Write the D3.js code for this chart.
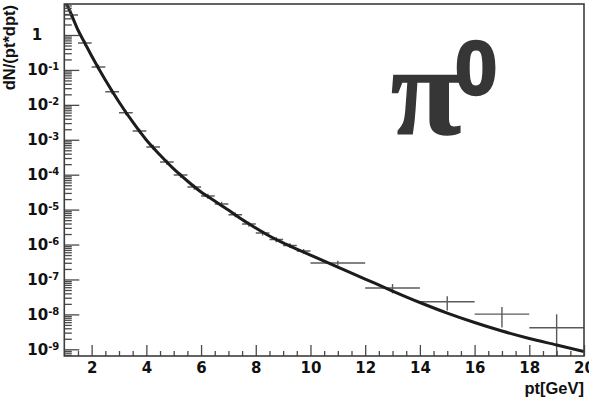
<!DOCTYPE html>
<html>
<head>
<meta charset="utf-8">
<script src="https://cdn.jsdelivr.net/npm/d3@7/dist/d3.min.js"></script>
<style>
  html, body { margin: 0; padding: 0; background: #fff; }
  svg { display: block; }
</style>
</head>
<body>
<svg id="chart" width="589" height="401"></svg>
<script>
// pi0 transverse-momentum spectrum: binned yields with a fitted curve

// measured bins (pt in GeV)
const ptLow  = [1.0, 1.5, 2.0, 2.5, 3.0, 3.5, 4.0, 4.5, 5.0, 5.5, 6.0, 6.5, 7.0, 7.5, 8.0, 8.5, 9.0, 9.5, 10, 12, 14, 16, 18];
const ptHigh = [1.5, 2.0, 2.5, 3.0, 3.5, 4.0, 4.5, 5.0, 5.5, 6.0, 6.5, 7.0, 7.5, 8.0, 8.5, 9.0, 9.5, 10, 12, 14, 16, 18, 20];
const yieldVal = [3.74, 0.59, 0.121, 0.0238, 5.96e-3, 1.78e-3, 6.2e-4, 2.31e-4, 9.8e-5, 4.44e-5, 2.45e-5, 1.45e-5,
                  7.1e-6, 3.87e-6, 2.14e-6, 1.39e-6, 9.4e-7, 6.5e-7, 2.96e-7, 5.7e-8, 2.3e-8, 1.02e-8, 4.15e-9];
const yieldErr = [0.6, 0.094, 0.019, 0.0038, 9.5e-4, 2.8e-4, 1.0e-4, 3.7e-5, 1.6e-5, 7.1e-6, 3.9e-6, 2.3e-6,
                  1.1e-6, 6.2e-7, 3.4e-7, 2.2e-7, 1.5e-7, 1.0e-7, 4.7e-8, 1.7e-8, 1.0e-8, 6.0e-9, 5.9e-9];

// fit curve sampled along pt
const fitPt = [1.0, 1.25, 1.5, 1.75, 2.0, 2.5, 3.0, 3.5, 4.0, 4.5, 5.0, 5.5, 6.0, 6.5, 7.0, 7.5, 8.0, 8.5, 9.0, 9.5,
               10, 11, 12, 13, 14, 15, 16, 17, 18, 19, 20];
const fitVal = [10.7, 4.0, 1.39, 0.59, 0.25, 0.0514, 0.0121, 3.23e-3, 9.85e-4, 3.66e-4, 1.46e-4, 6.6e-5, 3.19e-5,
                1.76e-5, 9.7e-6, 5.2e-6, 2.97e-6, 1.75e-6, 1.11e-6, 7.4e-7, 5.0e-7, 2.27e-7, 1.03e-7, 4.67e-8,
                2.19e-8, 1.09e-8, 5.85e-9, 3.34e-9, 2.04e-9, 1.33e-9, 8.6e-10];

// axis ticks
const xTicks = [2, 4, 6, 8, 10, 12, 14, 16, 18, 20];
const yTickExponents = [0, -1, -2, -3, -4, -5, -6, -7, -8, -9];

const plotLeft = 64.3, plotRight = 584, plotTop = 4, plotBottom = 356;

const svg = d3.select("#chart");

const x = d3.scaleLinear().domain([1, 20]).range([plotLeft, plotRight]);
const y = d3.scaleLog().domain([6.43e-10, 7.72]).range([plotBottom, plotTop]);

svg.append("defs").append("clipPath").attr("id", "plotClip")
  .append("rect")
  .attr("x", plotLeft).attr("y", plotTop)
  .attr("width", plotRight - plotLeft).attr("height", plotBottom - plotTop);

const plot = svg.append("g").attr("clip-path", "url(#plotClip)");

// error bars
const bins = ptLow.map((lo, i) => ({ lo, hi: ptHigh[i], v: yieldVal[i], e: yieldErr[i] }));
const ymin = y.domain()[0];
const eb = plot.append("g")
  .attr("stroke", "#5a5a5a").attr("stroke-width", 1.4).attr("fill", "none");
eb.selectAll("line.h").data(bins).join("line").attr("class", "h")
  .attr("x1", d => x(d.lo)).attr("x2", d => x(d.hi))
  .attr("y1", d => y(d.v)).attr("y2", d => y(d.v));
eb.selectAll("line.v").data(bins).join("line").attr("class", "v")
  .attr("x1", d => x((d.lo + d.hi) / 2)).attr("x2", d => x((d.lo + d.hi) / 2))
  .attr("y1", d => y(d.v + d.e))
  .attr("y2", d => (d.v - d.e > ymin ? y(d.v - d.e) : plotBottom));

// fit curve
const fit = fitPt.map((p, i) => [p, fitVal[i]]);
plot.append("path")
  .datum(fit)
  .attr("fill", "none")
  .attr("stroke", "#1c1c1c")
  .attr("stroke-width", 3)
  .attr("stroke-linejoin", "round")
  .attr("d", d3.line().x(d => x(d[0])).y(d => y(d[1])).curve(d3.curveMonotoneX));

// x axis: major and minor ticks pointing inward
const xMinor = d3.range(1.5, 20, 0.5).filter(v => v % 2 !== 0);
const xAxisMinor = svg.append("g").attr("transform", `translate(0,${plotBottom})`)
  .call(d3.axisBottom(x).tickValues(xMinor).tickSizeInner(-5).tickSizeOuter(0).tickFormat(""));
const xAxis = svg.append("g").attr("transform", `translate(0,${plotBottom})`)
  .call(d3.axisBottom(x).tickValues(xTicks).tickSizeInner(-11).tickSizeOuter(0).tickPadding(6).tickFormat(d3.format("d")));

// y axis: decades and log minor ticks
const yMinor = [];
for (let dec = -10; dec <= 0; dec++) {
  for (let k = 2; k <= 9; k++) {
    const v = k * Math.pow(10, dec);
    if (v > y.domain()[0] && v < y.domain()[1]) yMinor.push(v);
  }
}
const yAxisMinor = svg.append("g").attr("transform", `translate(${plotLeft},0)`)
  .call(d3.axisLeft(y).tickValues(yMinor).tickSizeInner(-7.5).tickSizeOuter(0).tickFormat(""));
const yAxis = svg.append("g").attr("transform", `translate(${plotLeft},0)`)
  .call(d3.axisLeft(y).tickValues(yTickExponents.map(e => Math.pow(10, e)))
    .tickSizeInner(-15).tickSizeOuter(0).tickPadding(5).tickFormat(""));

[xAxisMinor, xAxis, yAxisMinor, yAxis].forEach(g => {
  g.select(".domain").remove();
  g.selectAll(".tick line").attr("stroke", "#4a4a4a").attr("stroke-width", 1.3);
});

const tickFont = "'DejaVu Sans', 'Liberation Sans', Arial, sans-serif";
xAxis.selectAll(".tick text")
  .attr("font-family", tickFont).attr("font-weight", "bold").attr("font-size", 15).attr("fill", "#111");

yAxis.selectAll(".tick text").each(function(d, i) {
  const t = d3.select(this)
    .attr("font-family", tickFont).attr("font-weight", "bold").attr("font-size", 15).attr("fill", "#111");
  const ex = yTickExponents[i];
  if (ex === 0) {
    t.attr("x", -22).text("1");
  } else {
    t.text("");
    t.append("tspan").text("10");
    t.append("tspan").attr("dy", -5).attr("font-size", 10).text(String(ex));
  }
});

// frame
svg.append("rect")
  .attr("x", plotLeft).attr("y", plotTop)
  .attr("width", plotRight - plotLeft).attr("height", plotBottom - plotTop)
  .attr("fill", "none").attr("stroke", "#3c3c3c").attr("stroke-width", 1.6);

// axis titles
const titleFont = "'Liberation Sans', Arial, Helvetica, sans-serif";
svg.append("text")
  .attr("transform", "translate(14.5,5) rotate(-90)")
  .attr("text-anchor", "end")
  .attr("font-family", titleFont).attr("font-weight", "bold").attr("font-size", 16.5).attr("fill", "#111")
  .text("dN/(pt*dpt)");
svg.append("text")
  .attr("x", plotRight).attr("y", 394)
  .attr("text-anchor", "end")
  .attr("font-family", titleFont).attr("font-weight", "bold").attr("font-size", 16.5).attr("fill", "#111")
  .text("pt[GeV]");

// particle label: pi with a superscript zero, as one text element
const label = svg.append("text")
  .attr("x", 391).attr("y", 134)
  .attr("font-weight", "bold")
  .attr("fill", "#363636").attr("stroke", "#363636");
label.append("tspan")
  .attr("font-family", "'Liberation Serif', 'Times New Roman', serif")
  .attr("font-size", 128).attr("stroke-width", 1.5)
  .text("π");
label.append("tspan")
  .attr("x", 455).attr("y", 94)
  .attr("font-family", titleFont)
  .attr("font-size", 76).attr("stroke-width", 2.5)
  .text("0");
</script>
</body>
</html>
